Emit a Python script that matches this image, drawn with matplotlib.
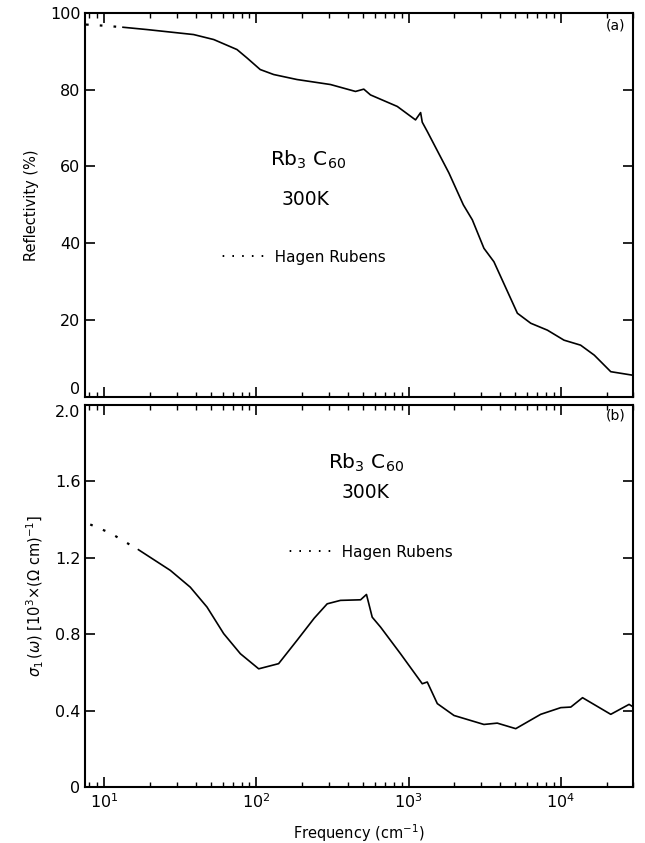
import numpy as np
import matplotlib
matplotlib.use("Agg")
import matplotlib.pyplot as plt
from matplotlib.ticker import LogLocator, NullFormatter, FixedLocator

# ---- data ----
hr_refl_freq = [7.6, 10, 13.3]
hr_refl_val = [96.9, 96.6, 96.2]

refl_freq = [13.3, 19.1, 38.7, 52.5, 74.6, 86.9, 106, 130, 185, 307, 448, 508, 562,
             843, 1111, 1200, 1230, 1327, 1841, 2290, 2624, 3127, 3637, 5188, 6350,
             8170, 10500, 13500, 16600, 21300, 29500]
refl_val = [96.2, 95.6, 94.3, 93.0, 90.4, 88.2, 85.2, 83.9, 82.6, 81.3, 79.5, 80.1, 78.6,
            75.6, 72.1, 74.0, 71.5, 69.1, 58.3, 50.0, 46.1, 38.7, 35.2, 21.8, 19.2,
            17.4, 14.8, 13.5, 10.9, 6.6, 5.7]

hr_sig_freq = [8.1, 11, 13.8, 16.8]
hr_sig_val = [1.375, 1.33, 1.283, 1.243]

sig_freq = [16.8, 27.2, 36.8, 47.4, 61, 78.5, 103.6, 140, 185, 240, 292, 357, 484, 529,
            577, 655, 885, 1230, 1327, 1545, 1988, 3127, 3826, 5060, 7380,
            10000, 11640, 13900, 21300, 28100, 30000]
sig_val = [1.243, 1.135, 1.047, 0.943, 0.804, 0.699, 0.62, 0.647, 0.769, 0.885, 0.96, 0.978, 0.981, 1.009,
           0.89, 0.838, 0.699, 0.542, 0.551, 0.438, 0.376, 0.329, 0.336, 0.307, 0.382,
           0.417, 0.42, 0.469, 0.382, 0.434, 0.42]

xlim = (7.5, 30000)

fig = plt.figure(figsize=(6.45, 8.43), dpi=100)
ax1 = fig.add_axes([0.132, 0.529, 0.850, 0.456])
ax2 = fig.add_axes([0.132, 0.066, 0.850, 0.4536])

fs = 11.5
for ax in (ax1, ax2):
    ax.set_xscale("log")
    ax.set_xlim(*xlim)
    ax.tick_params(which="both", direction="in", top=True, right=True, labelsize=fs)
    ax.tick_params(which="major", length=7, width=1.2)
    ax.tick_params(which="minor", length=3.5, width=1)
    ax.xaxis.set_major_locator(LogLocator(base=10, numticks=10))
    ax.xaxis.set_minor_locator(LogLocator(base=10, subs=np.arange(2, 10), numticks=20))
    ax.xaxis.set_minor_formatter(NullFormatter())
    for s in ax.spines.values():
        s.set_linewidth(1.5)

dot = (0, (1.2, 5))

# panel (a)
ax1.plot(hr_refl_freq, hr_refl_val, linestyle=dot, color="black", lw=1.6)
ax1.plot(refl_freq, refl_val, color="black", lw=1.2)
ax1.set_ylim(0, 100)
ax1.yaxis.set_major_locator(FixedLocator([0, 20, 40, 60, 80, 100]))
ax1.xaxis.set_major_formatter(NullFormatter())
ax1.set_ylabel("Reflectivity (%)", fontsize=10.5, labelpad=8)
ax1.text(0.985, 0.985, "(a)", transform=ax1.transAxes, ha="right", va="top", fontsize=10)
ax1.text(0.406, 0.617, r"Rb$_3$ C$_{60}$", transform=ax1.transAxes, ha="center", va="center", fontsize=14.5)
ax1.text(0.402, 0.513, "300K", transform=ax1.transAxes, ha="center", va="center", fontsize=13.5)
ax1.text(0.247, 0.362, "· · · · ·  Hagen Rubens", transform=ax1.transAxes, ha="left", va="center", fontsize=11)

# panel (b)
ax2.plot(hr_sig_freq, hr_sig_val, linestyle=dot, color="black", lw=1.6)
ax2.plot(sig_freq, sig_val, color="black", lw=1.2)
ax2.set_ylim(0, 2.0)
ax2.yaxis.set_major_locator(FixedLocator([0, 0.4, 0.8, 1.2, 1.6, 2.0]))
ax2.set_yticklabels(["0", "0.4", "0.8", "1.2", "1.6", "2.0"])
ax2.set_ylabel(r"$\sigma_1\,(\omega)$ [10$^3$×($\Omega$ cm)$^{-1}$]", fontsize=10.5, labelpad=6)
ax2.set_xlabel(r"Frequency (cm$^{-1}$)", fontsize=10.5, labelpad=8)
ax2.text(0.985, 0.99, "(b)", transform=ax2.transAxes, ha="right", va="top", fontsize=10)
ax2.text(0.512, 0.848, r"Rb$_3$ C$_{60}$", transform=ax2.transAxes, ha="center", va="center", fontsize=14.5)
ax2.text(0.512, 0.77, "300K", transform=ax2.transAxes, ha="center", va="center", fontsize=13.5)
ax2.text(0.37, 0.615, "· · · · ·  Hagen Rubens", transform=ax2.transAxes, ha="left", va="center", fontsize=11)

# keep the shared-edge labels apart
ax1.yaxis.get_major_ticks()[0].label1.set_verticalalignment("bottom")
ax2.yaxis.get_major_ticks()[-1].label1.set_verticalalignment("top")

fig.savefig("out.png", dpi=100)
